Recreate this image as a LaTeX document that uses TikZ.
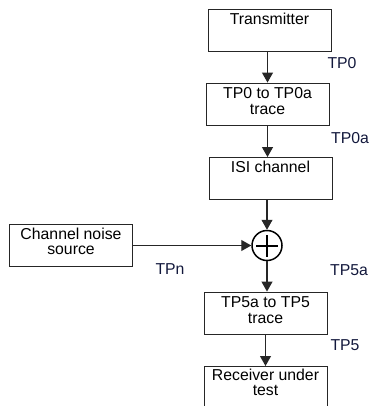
\documentclass[tikz,border=0pt]{standalone}
\usepackage{fontspec}
\setmainfont{Liberation Sans}
\usetikzlibrary{arrows.meta}
\definecolor{lbl}{RGB}{18,24,60}
\begin{document}
\begin{tikzpicture}[x=1pt,y=-1pt,
  boxnode/.style={draw=black!85, line width=0.9pt, minimum width=123pt, minimum height=42pt, inner sep=0pt},
  boxtext/.style={font=\fontsize{15.8}{15.8}\selectfont, align=center, anchor=north, inner sep=0pt, text=black},
  tplabel/.style={font=\fontsize{15.8}{15.8}\selectfont, inner sep=0pt, text=lbl},
  flow/.style={draw=black!85, line width=1.1pt, -{Triangle[length=10pt,width=11pt]}}]
\useasboundingbox (0,0) rectangle (371,406);
% boxes
\node[boxnode] (tx) at (269.5,30.5) {};
\node[boxtext] (txt1) at (269.5,13) {Transmitter};
\node[boxnode] (tr1) at (267.5,104) {};
\node[boxtext] (txt2) at (267.5,87) {TP0 to TP0a\\trace};
\node[boxnode] (isi) at (270.5,178.5) {};
\node[boxtext] (txt3) at (270.5,161) {ISI channel};
\node[boxnode] (noise) at (71,245.5) {};
\node[boxtext] (txt4) at (71,227.5) {Channel noise\\source};
\node[draw=black, line width=1.5pt, circle, minimum size=30pt, inner sep=0pt] (sum) at (267,245.5) {};
\draw[line width=2pt] ([yshift=-11pt]sum.center) -- ([yshift=11pt]sum.center)
  ([xshift=-11pt]sum.center) -- ([xshift=11pt]sum.center);
\node[boxnode] (tr2) at (265.5,313) {};
\node[boxtext] (txt5) at (265.5,296.5) {TP5a to TP5\\trace};
\draw[black!85, line width=0.9pt] (204,410) -- (204,366) -- (327,366) -- (327,410);
\coordinate (rx) at (265.5,366);
\node[boxtext] (txt6) at (265.5,368.5) {Receiver under\\test};
% connectors
\draw[flow] (tx.south -| tr1.north) -- (tr1.north);
\draw[flow] (tr1.south) -- (tr1.south |- isi.north);
\draw[flow] (isi.south -| sum.north) -- (sum.north);
\draw[flow] (noise.east |- sum.west) -- (sum.west);
\draw[flow] (sum.south) -- (sum.south |- tr2.north);
\draw[flow] (tr2.south -| rx) -- (rx);
% labels
\node[tplabel] (l0) at (342,63) {TP0};
\node[tplabel] (l0a) at (350,138) {TP0a};
\node[tplabel] (ln) at (170,269) {TPn};
\node[tplabel] (l5a) at (349,270) {TP5a};
\node[tplabel] (l5) at (345,345) {TP5};
\end{tikzpicture}
\end{document}
